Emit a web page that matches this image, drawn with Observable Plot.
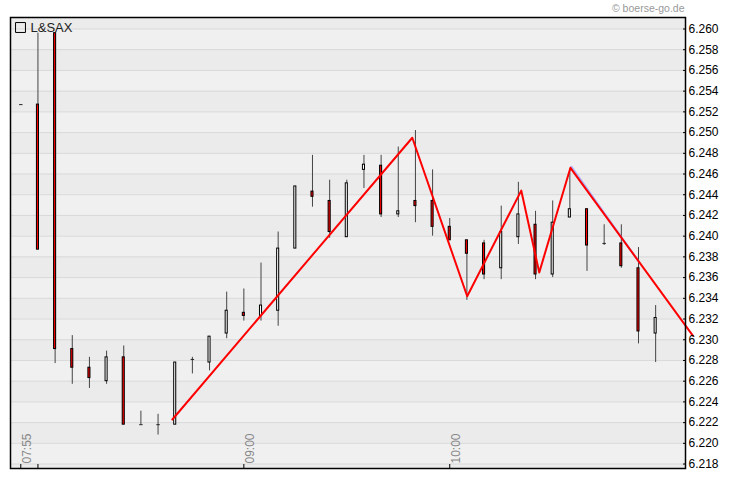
<!DOCTYPE html>
<html><head><meta charset="utf-8">
<script src="https://cdn.jsdelivr.net/npm/d3@7"></script>
<script src="https://cdn.jsdelivr.net/npm/@observablehq/plot@0.6"></script>
<style>
body{margin:0;background:#fff;}
#chart{width:730px;height:481px;}
</style></head><body><div id="chart"></div>
<script>
// 5-minute candles (L&SAX)
const times = ["07:55","08:00","08:05","08:10","08:15","08:20","08:25","08:30","08:35","08:40",
  "08:45","08:50","08:55","09:00","09:05","09:10","09:15","09:20","09:25","09:30",
  "09:35","09:40","09:45","09:50","09:55","10:00","10:05","10:10","10:15","10:20",
  "10:25","10:30","10:35","10:40","10:45","10:50","10:55","11:00"];
const opens  = [6.2527,6.2527,6.2596,6.2291,6.2273,6.2260,6.2283,6.2218,6.2218,6.2218,
  6.2281,6.2278,6.2306,6.2326,6.2323,6.2328,6.2388,6.2443,6.2434,6.2399,
  6.2464,6.2468,6.2421,6.2434,6.2434,6.2409,6.2396,6.2393,6.2369,6.2399,
  6.2411,6.2363,6.2418,6.2426,6.2393,6.2393,6.2369,6.2306];
const highs  = [6.2527,6.2596,6.2596,6.2304,6.2283,6.2289,6.2294,6.2231,6.2228,6.2278,
  6.2283,6.2303,6.2346,6.2349,6.2374,6.2404,6.2448,6.2478,6.2454,6.2454,
  6.2478,6.2478,6.2486,6.2502,6.2464,6.2417,6.2396,6.2396,6.2429,6.2452,
  6.2424,6.2434,6.2465,6.2426,6.2411,6.2411,6.2389,6.2333];
const lows   = [6.2527,6.2387,6.2277,6.2257,6.2253,6.2257,6.2218,6.2218,6.2208,6.2218,
  6.2267,6.2270,6.2301,6.2318,6.2318,6.2313,6.2388,6.2428,6.2398,6.2399,
  6.2446,6.2418,6.2418,6.2413,6.2400,6.2396,6.2338,6.2358,6.2358,6.2392,
  6.2358,6.2360,6.2418,6.2366,6.2391,6.2369,6.2296,6.2278];
const closes = [6.2527,6.2387,6.2291,6.2273,6.2263,6.2283,6.2218,6.2218,6.2218,6.2278,
  6.2281,6.2303,6.2328,6.2323,6.2333,6.2388,6.2448,6.2438,6.2404,6.2451,
  6.2469,6.2421,6.2424,6.2429,6.2409,6.2396,6.2383,6.2363,6.2404,6.2421,
  6.2363,6.2413,6.2426,6.2391,6.2393,6.2371,6.2308,6.2321];

// zigzag overlay
const zzTimes  = ["08:39:10","09:49:05","10:05:05","10:20:50","10:26:05","10:35:10","11:10:50"];
const zzValues = [6.2223,6.2495,6.2342,6.2444,6.2365,6.2466,6.2304];
const blueTimes  = ["10:35:10","10:55:06"];
const blueValues = [6.2466,6.2373];

const yTicks = [6.218,6.220,6.222,6.224,6.226,6.228,6.230,6.232,6.234,6.236,6.238,
  6.240,6.242,6.244,6.246,6.248,6.250,6.252,6.254,6.256,6.258,6.260];
const xTickTimes = ["07:55","08:00","09:00","10:00"];
const xLabels = ["07:55","09:00","10:00"];
const seriesName = "L&SAX";
const sourceNote = "© boerse-go.de";

const toMin = s => { const p = s.split(":").map(Number); return p[0]*60 + p[1] + (p[2]||0)/60; };
const candles = times.map((t,i)=>({t: toMin(t), o: opens[i], h: highs[i], l: lows[i], c: closes[i]}));
const bodies = candles.filter(d => d.o !== d.c);
const dojis = candles.filter(d => d.o === d.c);
const zz = zzTimes.map((t,i)=>({t: toMin(t), v: zzValues[i]}));
const blue = blueTimes.map((t,i)=>({t: toMin(t), v: blueValues[i]}));
const lightBands = [];
for (let i = yTicks.length - 1; i > 0; i -= 2) lightBands.push({y1: yTicks[i], y2: yTicks[i-1]});

const halfBody = 0.3, halfDoji = 0.5;

const chart = Plot.plot({
  width: 730, height: 481,
  marginTop: 17, marginBottom: 13, marginLeft: 10, marginRight: 45,
  x: {domain: [472, 668.7], axis: null},
  y: {domain: [6.21757, 6.26111], axis: null},
  style: {fontFamily: "'Liberation Sans', Arial, sans-serif", background: "#fff", overflow: "visible"},
  marks: [
    Plot.frame({fill: "#ebebeb", stroke: null}),
    Plot.rect(lightBands, {y1: "y1", y2: "y2", fill: "#f0f0f0"}),
    Plot.ruleY(yTicks, {stroke: "#d9d9d9"}),
    Plot.ruleX(candles, {x: "t", y1: "l", y2: "h", stroke: "#444"}),
    Plot.rect(bodies, {x1: d => d.t - halfBody, x2: d => d.t + halfBody, y1: "o", y2: "c",
      fill: d => d.c < d.o ? "#ff0000" : "#ffffff", stroke: "#000", strokeWidth: 1}),
    Plot.link(dojis, {x1: d => d.t - halfDoji, x2: d => d.t + halfDoji, y1: "o", y2: "o", stroke: "#222"}),
    Plot.line(blue, {x: "t", y: "v", stroke: "#8080ff", strokeWidth: 2, dx: 1, dy: -1, strokeOpacity: 0.6}),
    Plot.line(zz, {x: "t", y: "v", stroke: "#ff0000", strokeWidth: 2}),
    Plot.frame({stroke: "#000", strokeWidth: 1.5}),
    Plot.axisY({anchor: "right", ticks: yTicks, tickFormat: d3.format(".3f"), tickSize: 3, dx: -3,
      tickPadding: 3, fontSize: 12, color: "#000", label: null}),
    Plot.axisX({anchor: "bottom", ticks: xTickTimes.map(toMin), tickSize: 4, dy: -4,
      tickFormat: () => "", color: "#000", label: null}),
    Plot.text(xLabels, {x: d => toMin(d), text: d => d, frameAnchor: "bottom", rotate: -90,
      textAnchor: "start", lineAnchor: "middle", dx: 6, dy: -5, fill: "#888", fontSize: 12}),
    Plot.dot([seriesName], {frameAnchor: "top-left", dx: 10, dy: 10, symbol: "square", r: 5.6,
      stroke: "#000", fill: "none", strokeWidth: 1}),
    Plot.text([seriesName], {frameAnchor: "top-left", dx: 20, dy: 10, textAnchor: "start",
      lineAnchor: "middle", fontSize: 13, fill: "#222"}),
    Plot.text([sourceNote], {frameAnchor: "top-right", dx: -1, dy: -9, textAnchor: "end",
      lineAnchor: "middle", fontSize: 10.5, fill: "#999"})
  ]
});
document.getElementById("chart").appendChild(chart);
</script></body></html>
